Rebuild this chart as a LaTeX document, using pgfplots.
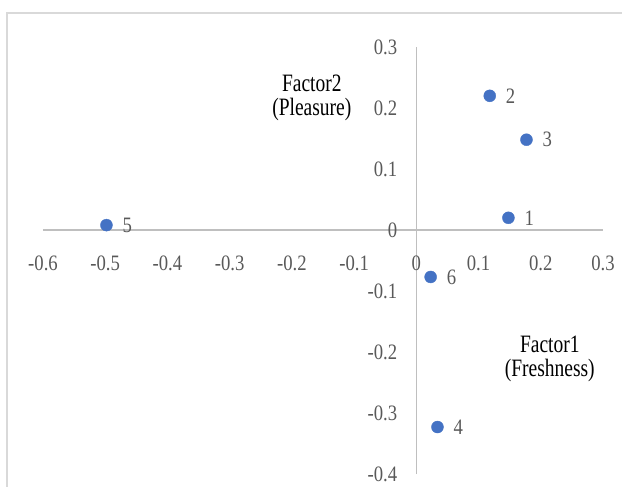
\documentclass[border=0pt]{standalone}
\usepackage{fontspec}
\setmainfont{Liberation Serif}
\newfontfamily\tickfont{Liberation Serif}[FakeStretch=0.85]
\newfontfamily\labfont{Liberation Serif}[FakeStretch=0.78]
\usepackage{pgfplots}
\pgfplotsset{compat=1.18}
\definecolor{ptblue}{HTML}{4472C4}
\definecolor{axgray}{HTML}{BFBFBF}
\definecolor{tickgray}{HTML}{595959}
\definecolor{framegray}{HTML}{D9D9D9}
\begin{document}
\begin{tikzpicture}
\useasboundingbox (0,0) rectangle (622bp,487bp);
\draw[framegray, line width=1.5bp] (7bp,0) -- (7bp,474bp) -- (622bp,474bp);
\begin{axis}[
  at={(43bp,13bp)}, anchor=south west,
  scale only axis, width=560bp, height=427bp,
  xmin=-0.6, xmax=0.3, ymin=-0.4, ymax=0.3,
  axis lines=middle,
  axis line style={axgray, line width=1.2bp, -},
  xtick={-0.6,-0.5,-0.4,-0.3,-0.2,-0.1,0,0.1,0.2,0.3},
  ytick={-0.4,-0.3,-0.2,-0.1,0,0.1,0.2,0.3},
  hide obscured x ticks=false, hide obscured y ticks=false,
  major tick length=0pt,
  tick style={draw=none},
  /pgf/number format/assume math mode=true,
  ticklabel style={font=\tickfont\fontsize{22bp}{22bp}\selectfont, text=tickgray, inner sep=0pt},
  xticklabel style={anchor=north, yshift=-26bp},
  yticklabel style={anchor=east, xshift=-19bp},
  clip=false,
]
\addplot[only marks, mark=*, mark size=6bp, color=ptblue,
  nodes near coords, point meta=explicit symbolic,
  nodes near coords style={anchor=west, inner sep=0pt, xshift=16bp,
    font=\tickfont\fontsize{22bp}{22bp}\selectfont, text=tickgray}]
  table[meta=lab] {
x y lab
0.148 0.020 1
0.118 0.220 2
0.177 0.148 3
0.034 -0.323 4
-0.498 0.008 5
0.023 -0.077 6
};
\node[anchor=north, align=center, inner sep=0pt, font=\labfont\fontsize{25bp}{24bp}\selectfont]
  at (axis cs:-0.168,0.254) {Factor2\\(Pleasure)};
\node[anchor=north, align=center, inner sep=0pt, font=\labfont\fontsize{25bp}{24bp}\selectfont]
  at (axis cs:0.2145,-0.174) {Factor1\\(Freshness)};
\end{axis}
\end{tikzpicture}
\end{document}
